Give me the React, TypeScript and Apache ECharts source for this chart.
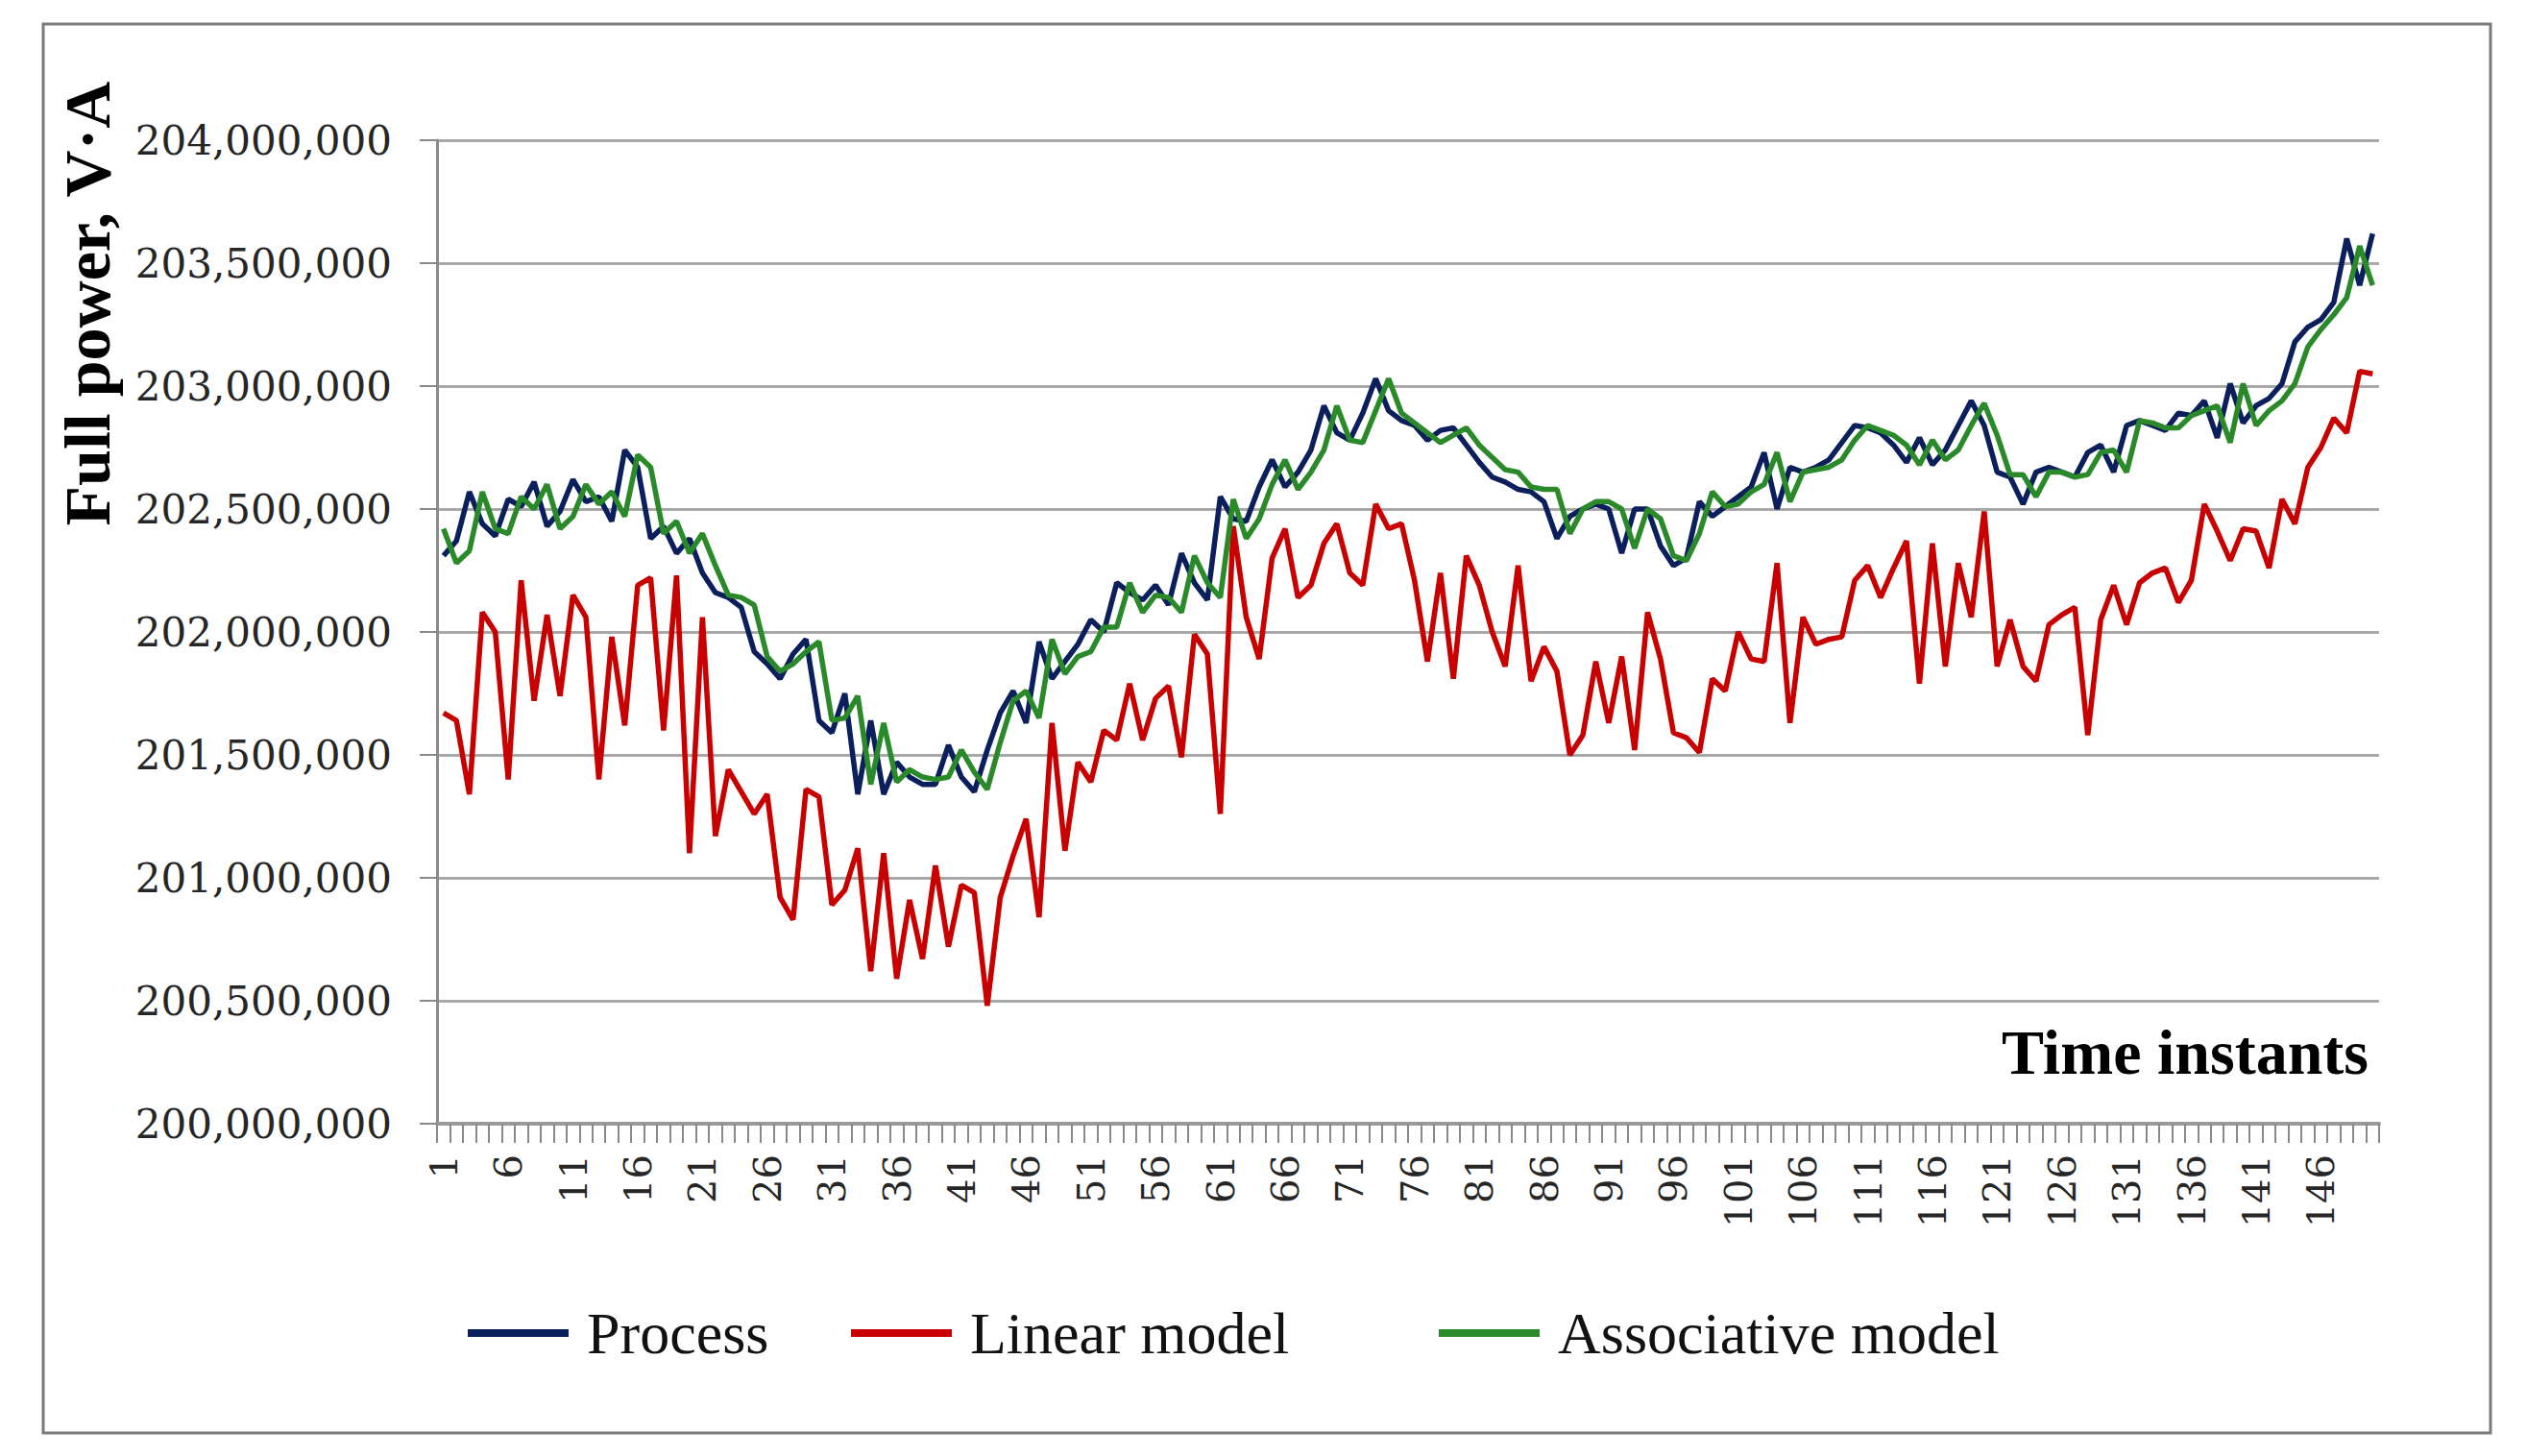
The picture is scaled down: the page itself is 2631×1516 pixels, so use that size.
import React, { useEffect, useRef } from "react";
import * as echarts from "echarts";

const categories: string[] = Array.from({ length: 150 }, (_, i) => String(i + 1));

const yTicks = { min: 200000000, max: 204000000, interval: 500000 };

const processValues: number[] = [
  202.31e6, 202.37e6, 202.57e6, 202.44e6, 202.39e6, 202.54e6, 202.51e6, 202.61e6, 202.43e6, 202.49e6,
  202.62e6, 202.53e6, 202.55e6, 202.45e6, 202.74e6, 202.67e6, 202.38e6, 202.43e6, 202.32e6, 202.38e6,
  202.24e6, 202.16e6, 202.14e6, 202.10e6, 201.92e6, 201.87e6, 201.81e6, 201.91e6, 201.97e6, 201.64e6,
  201.59e6, 201.75e6, 201.34e6, 201.64e6, 201.34e6, 201.47e6, 201.41e6, 201.38e6, 201.38e6, 201.54e6,
  201.41e6, 201.35e6, 201.52e6, 201.67e6, 201.76e6, 201.63e6, 201.96e6, 201.81e6, 201.88e6, 201.95e6,
  202.05e6, 202.00e6, 202.20e6, 202.16e6, 202.13e6, 202.19e6, 202.11e6, 202.32e6, 202.20e6, 202.13e6,
  202.55e6, 202.46e6, 202.45e6, 202.59e6, 202.70e6, 202.59e6, 202.65e6, 202.74e6, 202.92e6, 202.81e6,
  202.78e6, 202.89e6, 203.03e6, 202.90e6, 202.86e6, 202.84e6, 202.78e6, 202.82e6, 202.83e6, 202.76e6,
  202.69e6, 202.63e6, 202.61e6, 202.58e6, 202.57e6, 202.53e6, 202.38e6, 202.47e6, 202.50e6, 202.52e6,
  202.50e6, 202.32e6, 202.50e6, 202.50e6, 202.35e6, 202.27e6, 202.30e6, 202.53e6, 202.47e6, 202.51e6,
  202.55e6, 202.59e6, 202.73e6, 202.50e6, 202.67e6, 202.65e6, 202.67e6, 202.70e6, 202.77e6, 202.84e6,
  202.83e6, 202.81e6, 202.76e6, 202.69e6, 202.79e6, 202.68e6, 202.74e6, 202.84e6, 202.94e6, 202.84e6,
  202.65e6, 202.63e6, 202.52e6, 202.65e6, 202.67e6, 202.65e6, 202.63e6, 202.73e6, 202.76e6, 202.65e6,
  202.84e6, 202.86e6, 202.84e6, 202.82e6, 202.89e6, 202.88e6, 202.94e6, 202.79e6, 203.01e6, 202.85e6,
  202.92e6, 202.95e6, 203.01e6, 203.18e6, 203.24e6, 203.27e6, 203.34e6, 203.60e6, 203.41e6, 203.62e6,
];

const linearValues: number[] = [
  201.67e6, 201.64e6, 201.34e6, 202.08e6, 202.00e6, 201.40e6, 202.21e6, 201.72e6, 202.07e6, 201.74e6,
  202.15e6, 202.06e6, 201.40e6, 201.98e6, 201.62e6, 202.19e6, 202.22e6, 201.60e6, 202.23e6, 201.10e6,
  202.06e6, 201.17e6, 201.44e6, 201.35e6, 201.26e6, 201.34e6, 200.92e6, 200.83e6, 201.36e6, 201.33e6,
  200.89e6, 200.95e6, 201.12e6, 200.62e6, 201.10e6, 200.59e6, 200.91e6, 200.67e6, 201.05e6, 200.72e6,
  200.97e6, 200.94e6, 200.48e6, 200.92e6, 201.09e6, 201.24e6, 200.84e6, 201.63e6, 201.11e6, 201.47e6,
  201.39e6, 201.60e6, 201.56e6, 201.79e6, 201.56e6, 201.73e6, 201.78e6, 201.49e6, 201.99e6, 201.91e6,
  201.26e6, 202.43e6, 202.06e6, 201.89e6, 202.30e6, 202.42e6, 202.14e6, 202.19e6, 202.36e6, 202.44e6,
  202.24e6, 202.19e6, 202.52e6, 202.42e6, 202.44e6, 202.21e6, 201.88e6, 202.24e6, 201.81e6, 202.31e6,
  202.19e6, 202.00e6, 201.86e6, 202.27e6, 201.80e6, 201.94e6, 201.84e6, 201.50e6, 201.58e6, 201.88e6,
  201.63e6, 201.90e6, 201.52e6, 202.08e6, 201.89e6, 201.59e6, 201.57e6, 201.51e6, 201.81e6, 201.76e6,
  202.00e6, 201.89e6, 201.88e6, 202.28e6, 201.63e6, 202.06e6, 201.95e6, 201.97e6, 201.98e6, 202.21e6,
  202.27e6, 202.14e6, 202.26e6, 202.37e6, 201.79e6, 202.36e6, 201.86e6, 202.28e6, 202.06e6, 202.49e6,
  201.86e6, 202.05e6, 201.86e6, 201.80e6, 202.03e6, 202.07e6, 202.10e6, 201.58e6, 202.05e6, 202.19e6,
  202.03e6, 202.20e6, 202.24e6, 202.26e6, 202.12e6, 202.21e6, 202.52e6, 202.41e6, 202.29e6, 202.42e6,
  202.41e6, 202.26e6, 202.54e6, 202.44e6, 202.67e6, 202.75e6, 202.87e6, 202.81e6, 203.06e6, 203.05e6,
];

const associativeValues: number[] = [
  202.42e6, 202.28e6, 202.33e6, 202.57e6, 202.42e6, 202.40e6, 202.55e6, 202.50e6, 202.60e6, 202.42e6,
  202.47e6, 202.60e6, 202.52e6, 202.57e6, 202.47e6, 202.72e6, 202.67e6, 202.40e6, 202.45e6, 202.32e6,
  202.40e6, 202.27e6, 202.15e6, 202.14e6, 202.11e6, 201.90e6, 201.84e6, 201.87e6, 201.92e6, 201.96e6,
  201.64e6, 201.65e6, 201.74e6, 201.38e6, 201.63e6, 201.39e6, 201.44e6, 201.41e6, 201.40e6, 201.41e6,
  201.52e6, 201.43e6, 201.36e6, 201.55e6, 201.72e6, 201.76e6, 201.65e6, 201.97e6, 201.83e6, 201.90e6,
  201.92e6, 202.02e6, 202.02e6, 202.20e6, 202.08e6, 202.15e6, 202.14e6, 202.08e6, 202.31e6, 202.20e6,
  202.14e6, 202.54e6, 202.38e6, 202.46e6, 202.60e6, 202.70e6, 202.58e6, 202.65e6, 202.74e6, 202.92e6,
  202.78e6, 202.77e6, 202.90e6, 203.03e6, 202.89e6, 202.85e6, 202.81e6, 202.77e6, 202.80e6, 202.83e6,
  202.76e6, 202.71e6, 202.66e6, 202.65e6, 202.59e6, 202.58e6, 202.58e6, 202.40e6, 202.50e6, 202.53e6,
  202.53e6, 202.50e6, 202.34e6, 202.50e6, 202.46e6, 202.31e6, 202.29e6, 202.40e6, 202.57e6, 202.51e6,
  202.52e6, 202.57e6, 202.60e6, 202.73e6, 202.53e6, 202.65e6, 202.66e6, 202.67e6, 202.70e6, 202.78e6,
  202.84e6, 202.82e6, 202.80e6, 202.76e6, 202.68e6, 202.78e6, 202.70e6, 202.74e6, 202.84e6, 202.93e6,
  202.80e6, 202.64e6, 202.64e6, 202.55e6, 202.65e6, 202.65e6, 202.63e6, 202.64e6, 202.73e6, 202.74e6,
  202.65e6, 202.86e6, 202.85e6, 202.83e6, 202.83e6, 202.88e6, 202.90e6, 202.92e6, 202.77e6, 203.01e6,
  202.84e6, 202.90e6, 202.94e6, 203.01e6, 203.16e6, 203.23e6, 203.29e6, 203.36e6, 203.57e6, 203.41e6,
];

const seriesNames = ["Process", "Linear model", "Associative model"];
const seriesColors = ["#0b1f5c", "#c80000", "#2a8a2a"];

const SERIF = "'Liberation Serif', 'Times New Roman', serif";
const AXIS_FONT = "'DejaVu Serif', 'Liberation Serif', serif";

export default function App() {
  const ref = useRef<HTMLDivElement>(null);

  useEffect(() => {
    if (!ref.current) return;
    const chart = echarts.init(ref.current, undefined, { renderer: "svg" });
    const values = [processValues, linearValues, associativeValues];
    const legendLefts = [482, 881, 1493];

    chart.setOption({
      animation: false,
      backgroundColor: "#ffffff",
      grid: { left: 455, right: 154, top: 146, bottom: 346, containLabel: false },
      legend: seriesNames.map((name, i) => ({
        data: [name],
        left: legendLefts[i],
        top: 1352,
        icon: "rect",
        itemWidth: 105,
        itemHeight: 8,
        itemGap: 0,
        textStyle: {
          fontFamily: SERIF,
          fontSize: 62,
          color: "#111111",
          padding: [0, 0, 0, 14],
        },
      })),
      xAxis: {
        type: "category",
        data: categories,
        boundaryGap: true,
        axisLine: { show: true, lineStyle: { color: "#9a9a9a", width: 4 } },
        axisTick: {
          show: true,
          interval: 0,
          alignWithLabel: false,
          length: 20,
          lineStyle: { color: "#8a8a8a", width: 2 },
        },
        axisLabel: {
          interval: 4,
          rotate: 90,
          margin: 32,
          fontFamily: AXIS_FONT,
          fontSize: 40,
          color: "#262626",
        },
        splitLine: { show: false },
      },
      yAxis: {
        type: "value",
        min: yTicks.min,
        max: yTicks.max,
        interval: yTicks.interval,
        axisLine: { show: true, lineStyle: { color: "#8a8a8a", width: 3 } },
        axisTick: { show: true, length: 18, lineStyle: { color: "#8a8a8a", width: 2 } },
        axisLabel: {
          margin: 47,
          fontFamily: AXIS_FONT,
          fontSize: 42,
          color: "#262626",
          formatter: (v: number) => Math.round(v).toLocaleString("en-US"),
        },
        splitLine: { show: true, lineStyle: { color: "#a8a8a8", width: 3 } },
      },
      series: seriesNames.map((name, i) => ({
        name,
        type: "line",
        data: values[i],
        showSymbol: false,
        symbol: "none",
        lineStyle: { color: seriesColors[i], width: 5.5 },
        itemStyle: { color: seriesColors[i] },
        z: 2 + i,
      })),
      graphic: [
        {
          type: "rect",
          shape: { x: 45, y: 25, width: 2548, height: 1467 },
          style: { fill: "none", stroke: "#7a7a7a", lineWidth: 3 },
          silent: true,
        },
        {
          type: "text",
          x: 91,
          y: 316,
          rotation: Math.PI / 2,
          style: {
            text: "Full power, V·A",
            fontFamily: SERIF,
            fontWeight: "bold",
            fontSize: 68,
            fill: "#000000",
            align: "center",
            verticalAlign: "middle",
          },
        },
        {
          type: "text",
          x: 2466,
          y: 1128,
          style: {
            text: "Time instants",
            fontFamily: SERIF,
            fontWeight: "bold",
            fontSize: 66,
            fill: "#000000",
            align: "right",
            verticalAlign: "bottom",
          },
        },
      ],
    });

    return () => {
      chart.dispose();
    };
  }, []);

  return (
    <div
      ref={ref}
      style={{ position: "absolute", left: 0, top: 0, width: 2631, height: 1516 }}
    />
  );
}
